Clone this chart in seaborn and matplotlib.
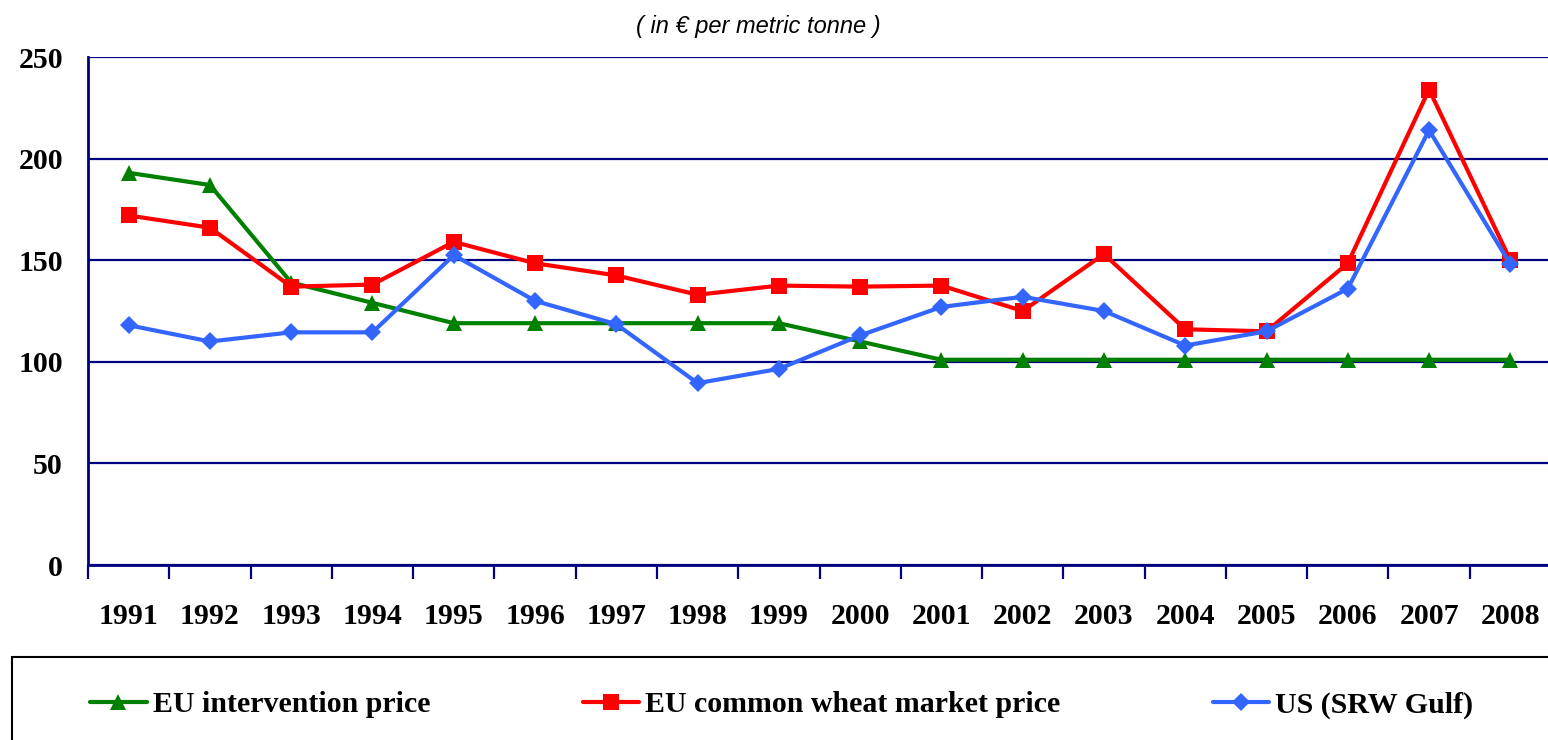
import seaborn as sns
import pandas as pd
import matplotlib.pyplot as plt
from matplotlib.patches import Rectangle

years = [str(y) for y in range(1991, 2009)]
intervention = [193, 187, 139, 129, 119, 119, 119, 119, 119, 110,
                101, 101, 101, 101, 101, 101, 101, 101]
market = [172, 166, 137, 138, 159, 148.5, 142.5, 133, 137.5, 137,
          137.5, 125, 153, 116, 115, 148.5, 234, 150]
us_srw = [118, 110, 114.5, 114.5, 152.5, 130, 118.5, 89.5, 96.5, 113,
          127, 132, 125, 108, 115, 136, 214, 148]

series_names = ["EU intervention price", "EU common wheat market price", "US (SRW Gulf)"]

rows = []
for name, vals in zip(series_names, [intervention, market, us_srw]):
    for i, v in enumerate(vals):
        rows.append({"idx": i, "price": v, "series": name})
df = pd.DataFrame(rows)

sns.set_style("white")
plt.rcParams["font.family"] = ["Liberation Serif", "DejaVu Serif"]
plt.rcParams["text.color"] = "black"
plt.rcParams["xtick.color"] = "black"
plt.rcParams["ytick.color"] = "black"

navy = "#000080"
colors = {"EU intervention price": "#008000",
          "EU common wheat market price": "#FF0000",
          "US (SRW Gulf)": "#3366FF"}
marks = {"EU intervention price": "^",
         "EU common wheat market price": "s",
         "US (SRW Gulf)": "D"}
sizes = {"^": 12, "s": 11, "D": 9}

fig = plt.figure(figsize=(15.48, 7.4), dpi=100)
ax = fig.add_axes([88 / 1548, 1 - 565 / 740, 1463 / 1548, 508 / 740])

for name in series_names:
    sub = df[df["series"] == name]
    sns.lineplot(data=sub, x="idx", y="price", ax=ax, color=colors[name],
                 marker=marks[name], markersize=sizes[marks[name]],
                 markeredgewidth=0, linewidth=3, label=name, zorder=3)

ax.set_xlim(-0.5, 17.5)
ax.set_ylim(0, 250)
ax.set_xlabel("")
ax.set_ylabel("")

ax.set_yticks([0, 50, 100, 150, 200, 250])
ax.yaxis.grid(True, color=navy, linewidth=1.6)
ax.xaxis.grid(False)
ax.tick_params(axis="y", length=0, pad=18, labelsize=21.5, labelcolor="black")
for lab in ax.get_yticklabels():
    lab.set_fontweight("bold")

ax.set_xticks(range(len(years)))
ax.set_xticklabels(years, fontsize=21.5, fontweight="bold")
ax.set_xticks([i - 0.5 for i in range(len(years) + 1)], minor=True)
ax.tick_params(axis="x", which="major", length=0, pad=27, labelcolor="black")
ax.tick_params(axis="x", which="minor", length=10, width=1.6, color=navy,
               direction="out", bottom=True)

for side in ["top", "right"]:
    ax.spines[side].set_visible(False)
for side in ["left", "bottom"]:
    ax.spines[side].set_color(navy)
    ax.spines[side].set_linewidth(2)
    ax.spines[side].set_zorder(4)

ax.get_legend().remove()
handles, labels = ax.get_legend_handles_labels()
leg = fig.legend(handles, labels, loc="center left",
                 bbox_to_anchor=(90 / 1548, 1 - 705 / 740), ncol=3, frameon=False,
                 prop={"family": ["Liberation Serif"], "weight": "bold", "size": 21.5},
                 handlelength=1.9, handletextpad=0.2, columnspacing=5.1,
                 borderpad=0, borderaxespad=0)
for t in leg.get_texts():
    t.set_color("black")

fig.patches.append(Rectangle((12 / 1548, -0.1), 1.2, 0.1 + 1 - 657 / 740,
                             transform=fig.transFigure, fill=False,
                             edgecolor="black", linewidth=1.5))

fig.text(758 / 1548, 1 - 27 / 740, "( in € per metric tonne )", ha="center",
         va="center", fontsize=17, style="italic", color="black",
         family=["Liberation Sans", "DejaVu Sans"])

fig.savefig("out.png", dpi=100)
